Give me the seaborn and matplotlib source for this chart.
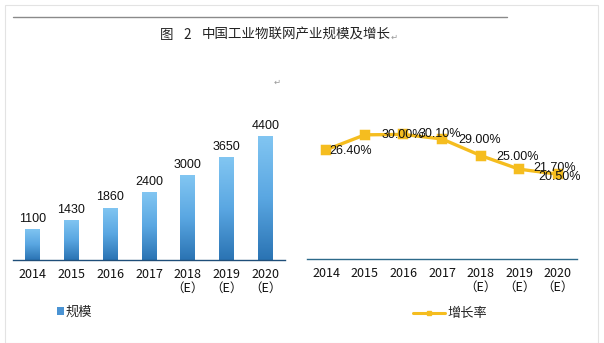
import numpy as np
import pandas as pd
import matplotlib
matplotlib.use("Agg")
import matplotlib.pyplot as plt
from matplotlib.patches import Rectangle
from matplotlib.lines import Line2D
from matplotlib.colors import LinearSegmentedColormap
import seaborn as sns

years = ["2014", "2015", "2016", "2017", "2018\n（E）", "2019\n（E）", "2020\n（E）"]
scale = [1100, 1430, 1860, 2400, 3000, 3650, 4400]
growth = [26.4, 30.0, 30.1, 29.0, 25.0, 21.7, 20.5]
growth_labels = ["26.40%", "30.00%", "30.10%", "29.00%", "25.00%", "21.70%", "20.50%"]
title_fig = "图"
title_num = "2"
title_main = "中国工业物联网产业规模及增长"

sns.set_theme(style="white")
plt.rcParams['font.family'] = ['Liberation Sans', 'Noto Sans CJK SC', 'DejaVu Sans']
CJK = ['Noto Sans CJK SC', 'DejaVu Sans']

W, H = 604, 343
fig = plt.figure(figsize=(W / 100, H / 100), dpi=100)
fig.patch.set_facecolor("white")

def fx(px):
    return px / W

def fy(py):
    return 1 - py / H

# page frame and top rule
fig.add_artist(Rectangle((fx(5), 0), fx(593), fy(5), transform=fig.transFigure,
                         fill=False, edgecolor="#e3e3e3", linewidth=0.8))
fig.add_artist(Line2D([fx(13), fx(507)], [fy(17), fy(17)], transform=fig.transFigure,
                      color="#8a8a8a", linewidth=1.0))
fig.text(fx(160), fy(35), title_fig, ha="left", va="center", fontsize=9.7, family=CJK, color="#222222")
fig.text(fx(183), fy(35), title_num, ha="left", va="center", fontsize=9.7, family=CJK, color="#222222")
fig.text(fx(202), fy(35), title_main, ha="left", va="center", fontsize=9.7, family=CJK, color="#222222")
fig.text(fx(391), fy(37), "↵", ha="left", va="center", fontsize=6,
         family=['DejaVu Sans'], color="#999999")
fig.text(fx(277), fy(82), "↵", ha="center", va="center", fontsize=6,
         family=['DejaVu Sans'], color="#999999")

df = pd.DataFrame({"year": years, "scale": scale, "growth": growth})

def style_axis(ax, spine_color):
    for s in ["top", "right", "left"]:
        ax.spines[s].set_visible(False)
    ax.spines["bottom"].set_color(spine_color)
    ax.spines["bottom"].set_linewidth(1.0)
    ax.set_yticks([])
    ax.set_xlabel("")
    ax.set_ylabel("")
    ax.set_xticks(range(len(years)))
    ax.set_xticklabels(years, family=CJK, fontsize=9, color="#111111", linespacing=1.05)
    ax.tick_params(axis="x", length=0, pad=6)
    ax.set_facecolor("none")

# ---------- Left: bar chart ----------
ax1 = fig.add_axes([fx(13), fy(260), fx(272), (260 - 110) / H])
sns.barplot(data=df, x="year", y="scale", ax=ax1, color="#4f9ad8", width=0.38,
            saturation=1, edgecolor="none")

cmap = LinearSegmentedColormap.from_list("bar", ["#2a73b3", "#5aa7e2", "#82c6f2"])
grad = np.linspace(0, 1, 256).reshape(-1, 1)
for p in list(ax1.patches):
    x0, y0 = p.get_x(), p.get_y()
    w, h = p.get_width(), p.get_height()
    p.set_facecolor("none")
    im = ax1.imshow(grad, cmap=cmap, origin="lower", aspect="auto",
                    extent=[x0, x0 + w, y0, y0 + h], zorder=2)
    im.set_clip_path(p)
    ax1.annotate(f"{int(round(h))}", (x0 + w / 2, y0 + h), xytext=(0, 3),
                 textcoords="offset points", ha="center", va="bottom",
                 fontsize=9, color="#111111")
ax1.set_xlim(-0.5, len(years) - 0.5)
ax1.set_ylim(0, 5320)
style_axis(ax1, "#1f4e79")

fig.legend(handles=[Rectangle((0, 0), 1, 1, facecolor="#4a93d3", edgecolor="none")],
           labels=["规模"], loc="center left", bbox_to_anchor=(fx(57), fy(312)),
           frameon=False, handlelength=0.5, handleheight=0.5, handletextpad=0.15,
           borderaxespad=0, borderpad=0, prop={"family": CJK, "size": 9.5})

# ---------- Right: growth line ----------
ax2 = fig.add_axes([fx(307), fy(259), fx(270), (259 - 110) / H])
line_color = "#f5bd1f"
sns.pointplot(data=df, x="year", y="growth", ax=ax2, color=line_color, markers="s",
              linestyles="-", markersize=5.5, linewidth=2.4, errorbar=None)
ax2.set_xlim(-0.5, len(years) - 0.5)
ax2.set_ylim(0, 36)
style_axis(ax2, "#2d6a8a")

label_dx = [2, 12, 11, 12, 11, 10, -14]
label_dy = [-1, 0, 0, -1, -1, 1, -2]
for i, (v, lab) in enumerate(zip(growth, growth_labels)):
    ax2.annotate(lab, (i, v), xytext=(label_dx[i], label_dy[i]), textcoords="offset points",
                 ha="left", va="center", fontsize=9, color="#111111", zorder=5)

fig.legend(handles=[Line2D([0], [0], color=line_color, linewidth=2.2, marker="s",
                           markersize=3)],
           labels=["增长率"], loc="center left", bbox_to_anchor=(fx(413), fy(314)),
           frameon=False, handlelength=2.4, handletextpad=0.2,
           borderaxespad=0, borderpad=0, prop={"family": CJK, "size": 9.5})

fig.savefig("out.png", dpi=100, facecolor="white")
